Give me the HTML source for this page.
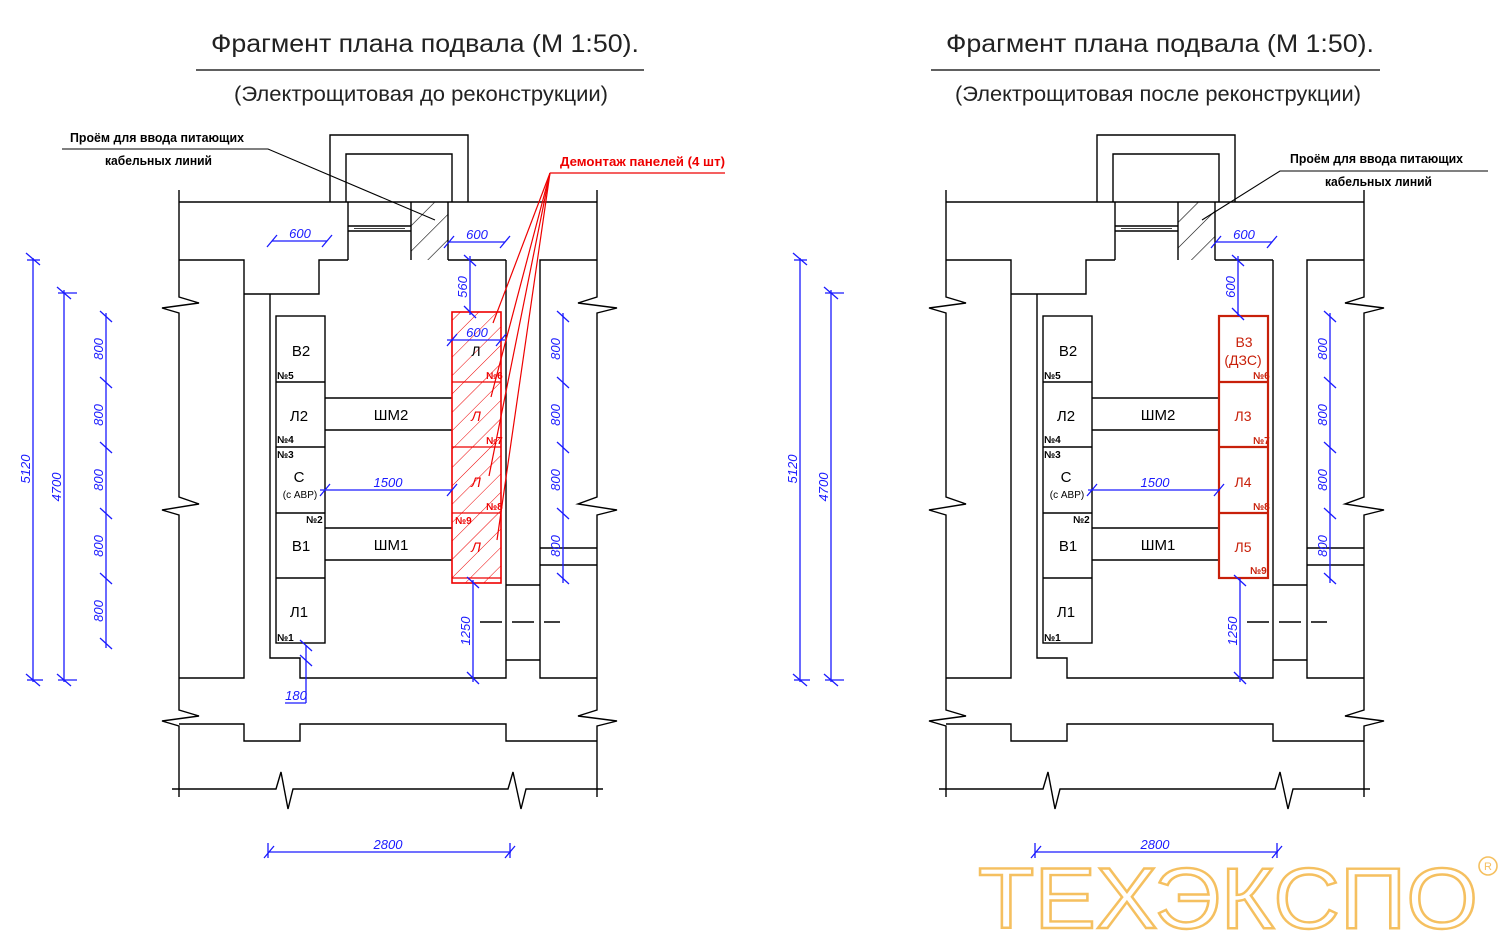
<!DOCTYPE html>
<html><head><meta charset="utf-8"><style>
html,body{margin:0;padding:0;background:#fff}
svg{display:block}
text{font-family:"Liberation Sans Narrow","Liberation Sans",sans-serif}
</style></head><body>
<svg width="1500" height="932" viewBox="0 0 1500 932" xmlns="http://www.w3.org/2000/svg">
<defs>
<pattern id="hb" patternUnits="userSpaceOnUse" width="18" height="18" patternTransform="rotate(45)">
<line x1="0" y1="0" x2="0" y2="18" stroke="#000" stroke-width="1.2"/></pattern>
<pattern id="hr" patternUnits="userSpaceOnUse" width="13" height="13" patternTransform="rotate(45)">
<line x1="0" y1="0" x2="0" y2="13" stroke="#e00" stroke-width="1"/></pattern>
<g id="plan" fill="none" stroke="#000" stroke-width="1.4">
<polyline points="330,202 330,135 468,135 468,202"/>
<polyline points="346,202 346,154 452,154 452,202"/>
<line x1="179" y1="202" x2="597" y2="202"/>
<polyline points="179,190 179,297 199,303 162,308 179,313 179,497 199,504 162,510 179,515 179,710 199,716 162,721 179,726 179,797"/>
<polyline points="597,190 597,297 578,303 617,308 597,313 597,497 578,504 617,510 597,515 597,710 578,716 617,721 597,726 597,797"/>
<polyline points="179,260 244,260 244,678 179,678"/>
<polyline points="244,294 319,294 319,260 348,260"/>
<line x1="448" y1="260" x2="506" y2="260"/>
<line x1="348" y1="202" x2="348" y2="260"/>
<line x1="448" y1="202" x2="448" y2="260"/>
<line x1="411" y1="202" x2="411" y2="260"/>
<line x1="348" y1="226" x2="411" y2="226"/>
<line x1="348" y1="231" x2="411" y2="231"/>
<line x1="354" y1="228.5" x2="405" y2="228.5" stroke-width="0.8"/>
<polyline points="506,260 506,678 300,678 300,658 270,658 270,294"/>
<polyline points="597,260 540,260 540,678 597,678"/>
<line x1="540" y1="548" x2="597" y2="548"/>
<line x1="540" y1="565" x2="597" y2="565"/>
<line x1="506" y1="585" x2="540" y2="585"/>
<line x1="506" y1="660" x2="540" y2="660"/>
<line x1="480" y1="622" x2="560" y2="622" stroke-dasharray="22,10"/>
<polyline points="179,724 244,724 244,741 300,741 300,724 506,724 506,741 597,741"/>
<polyline points="172,789 276,789 281,772 288,809 293,789 508,789 513,772 521,809 526,789 603,789"/>
<rect x="276" y="316" width="49" height="327"/>
<line x1="276" y1="382" x2="325" y2="382"/>
<line x1="276" y1="447" x2="325" y2="447"/>
<line x1="276" y1="513" x2="325" y2="513"/>
<line x1="276" y1="578" x2="325" y2="578"/>
<line x1="325" y1="398" x2="452" y2="398"/>
<line x1="325" y1="430" x2="452" y2="430"/>
<line x1="325" y1="528" x2="452" y2="528"/>
<line x1="325" y1="560" x2="452" y2="560"/>
</g>
</defs>

<rect x="411" y="202" width="37" height="58" fill="url(#hb)"/>
<rect x="1178" y="202" width="37" height="58" fill="url(#hb)"/>
<use href="#plan"/>
<use href="#plan" x="767"/>

<g font-size="25" fill="#222" text-anchor="middle">
<text x="425" y="52" textLength="428" lengthAdjust="spacingAndGlyphs">Фрагмент плана подвала (М 1:50).</text>
<text x="421" y="101" font-size="21" textLength="374" lengthAdjust="spacingAndGlyphs">(Электрощитовая до реконструкции)</text>
<text x="1160" y="52" textLength="428" lengthAdjust="spacingAndGlyphs">Фрагмент плана подвала (М 1:50).</text>
<text x="1158" y="101" font-size="21" textLength="406" lengthAdjust="spacingAndGlyphs">(Электрощитовая после реконструкции)</text>
</g>
<line x1="196" y1="70" x2="644" y2="70" stroke="#000" stroke-width="1.3"/>
<line x1="931" y1="70" x2="1380" y2="70" stroke="#000" stroke-width="1.3"/>

<g stroke="#000" stroke-width="1.1" fill="none">
<polyline points="62,149 268,149 435,220"/>
<polyline points="1488,171 1280,171 1202,220"/>
</g>
<g font-size="13" fill="#000" font-weight="bold">
<text x="70" y="142" textLength="174" lengthAdjust="spacingAndGlyphs">Проём для ввода питающих</text>
<text x="105" y="165" textLength="107" lengthAdjust="spacingAndGlyphs">кабельных линий</text>
<text x="1290" y="163" textLength="173" lengthAdjust="spacingAndGlyphs">Проём для ввода питающих</text>
<text x="1325" y="186" textLength="107" lengthAdjust="spacingAndGlyphs">кабельных линий</text>
</g>

<rect x="452" y="312" width="49" height="271" fill="url(#hr)" stroke="#e00" stroke-width="1.6"/>
<g stroke="#e00" stroke-width="1.2" fill="none">
<line x1="452" y1="382" x2="501" y2="382"/>
<line x1="452" y1="447" x2="501" y2="447"/>
<line x1="452" y1="513" x2="501" y2="513"/>
<line x1="452" y1="578" x2="501" y2="578"/>
<polyline points="725,173 550,173"/>
<line x1="550" y1="173" x2="493" y2="323"/>
<line x1="550" y1="173" x2="491" y2="397"/>
<line x1="550" y1="173" x2="489" y2="476"/>
<line x1="550" y1="173" x2="497" y2="540"/>
</g>
<text x="560" y="166" font-size="13" fill="#e00" font-weight="bold" textLength="165" lengthAdjust="spacingAndGlyphs">Демонтаж панелей (4 шт)</text>

<g stroke="#c8200a" stroke-width="2.2" fill="none">
<rect x="1219" y="316" width="49" height="262"/>
<line x1="1219" y1="382" x2="1268" y2="382"/>
<line x1="1219" y1="447" x2="1268" y2="447"/>
<line x1="1219" y1="513" x2="1268" y2="513"/>
</g>

<g font-size="15" fill="#000" text-anchor="middle">
<text x="301" y="356">В2</text><text x="299" y="421">Л2</text>
<text x="299" y="482">С</text><text x="301" y="551">В1</text><text x="299" y="617">Л1</text>
<text x="391" y="420">ШМ2</text><text x="391" y="550">ШМ1</text>
<text x="1068" y="356">В2</text><text x="1066" y="421">Л2</text>
<text x="1066" y="482">С</text><text x="1068" y="551">В1</text><text x="1066" y="617">Л1</text>
<text x="1158" y="420">ШМ2</text><text x="1158" y="550">ШМ1</text>
<text x="476" y="356" font-size="14">Л</text>
</g>
<g font-size="10" fill="#000" font-weight="bold">
<text x="300" y="498" text-anchor="middle" font-weight="normal">(c АВР)</text>
<text x="277" y="379">№5</text><text x="277" y="443">№4</text><text x="277" y="458">№3</text>
<text x="306" y="523">№2</text><text x="277" y="641">№1</text>
<text x="1067" y="498" text-anchor="middle" font-weight="normal">(c АВР)</text>
<text x="1044" y="379">№5</text><text x="1044" y="443">№4</text><text x="1044" y="458">№3</text>
<text x="1073" y="523">№2</text><text x="1044" y="641">№1</text>
</g>
<g font-size="10" fill="#e00" font-weight="bold">
<text x="486" y="379">№6</text><text x="486" y="444">№7</text><text x="486" y="510">№8</text><text x="455" y="524">№9</text>
</g>
<g font-size="14" fill="#e00" text-anchor="middle" font-style="italic">
<text x="476" y="421">Л</text><text x="476" y="487">Л</text><text x="476" y="552">Л</text>
</g>
<g font-size="14" fill="#c8200a" text-anchor="middle">
<text x="1244" y="347">В3</text><text x="1243" y="365">(ДЗС)</text>
<text x="1243" y="421">Л3</text><text x="1243" y="487">Л4</text><text x="1243" y="552">Л5</text>
</g>
<g font-size="10" fill="#c8200a" font-weight="bold">
<text x="1253" y="379">№6</text><text x="1253" y="444">№7</text><text x="1253" y="510">№8</text><text x="1250" y="574">№9</text>
</g>

<g stroke="#1a1aff" stroke-width="1.3" fill="none">
<line x1="33" y1="258" x2="33" y2="682"/><line x1="26" y1="253" x2="40" y2="265"/><line x1="26" y1="674" x2="40" y2="686"/>
<line x1="27" y1="680" x2="43" y2="680"/><line x1="27" y1="260" x2="40" y2="260"/>
<line x1="64" y1="290" x2="64" y2="682"/><line x1="57" y1="287" x2="71" y2="299"/><line x1="57" y1="674" x2="71" y2="686"/>
<line x1="58" y1="293" x2="77" y2="293"/><line x1="58" y1="680" x2="77" y2="680"/>
<line x1="106" y1="313" x2="106" y2="648"/>
<line x1="100" y1="311" x2="112" y2="322"/><line x1="100" y1="377" x2="112" y2="388"/><line x1="100" y1="442" x2="112" y2="453"/>
<line x1="100" y1="508" x2="112" y2="519"/><line x1="100" y1="573" x2="112" y2="584"/><line x1="100" y1="638" x2="112" y2="649"/>
<line x1="269" y1="852" x2="511" y2="852"/><line x1="264" y1="858" x2="274" y2="846"/><line x1="505" y1="858" x2="515" y2="846"/>
<line x1="268" y1="843" x2="268" y2="858"/><line x1="510" y1="843" x2="510" y2="858"/>
<line x1="272" y1="241" x2="327" y2="241"/><line x1="267" y1="247" x2="277" y2="235"/><line x1="322" y1="247" x2="332" y2="235"/>
<line x1="449" y1="242" x2="505" y2="242"/><line x1="444" y1="248" x2="454" y2="236"/><line x1="500" y1="248" x2="510" y2="236"/>
<line x1="470" y1="256" x2="470" y2="315"/><line x1="464" y1="255" x2="476" y2="266"/><line x1="464" y1="306" x2="476" y2="318"/>
<line x1="447" y1="340" x2="505" y2="340"/><line x1="447" y1="346" x2="457" y2="334"/><line x1="496" y1="346" x2="506" y2="334"/>
<line x1="320" y1="490" x2="452" y2="490"/><line x1="320" y1="496" x2="330" y2="484"/><line x1="447" y1="496" x2="457" y2="484"/>
<line x1="473" y1="580" x2="473" y2="682"/><line x1="467" y1="577" x2="479" y2="588"/><line x1="467" y1="672" x2="479" y2="684"/>
<line x1="306" y1="645" x2="306" y2="703"/><line x1="300" y1="640" x2="312" y2="651"/><line x1="300" y1="655" x2="312" y2="666"/>
<line x1="285" y1="703" x2="306" y2="703"/>
<line x1="563" y1="313" x2="563" y2="583"/>
<line x1="557" y1="311" x2="569" y2="322"/><line x1="557" y1="377" x2="569" y2="388"/><line x1="557" y1="442" x2="569" y2="453"/>
<line x1="557" y1="508" x2="569" y2="519"/><line x1="557" y1="573" x2="569" y2="584"/>
<line x1="800" y1="258" x2="800" y2="682"/><line x1="793" y1="253" x2="807" y2="265"/><line x1="793" y1="674" x2="807" y2="686"/>
<line x1="794" y1="680" x2="810" y2="680"/><line x1="794" y1="260" x2="807" y2="260"/>
<line x1="831" y1="290" x2="831" y2="682"/><line x1="824" y1="287" x2="838" y2="299"/><line x1="824" y1="674" x2="838" y2="686"/>
<line x1="825" y1="293" x2="844" y2="293"/><line x1="825" y1="680" x2="844" y2="680"/>
<line x1="1036" y1="852" x2="1278" y2="852"/><line x1="1031" y1="858" x2="1041" y2="846"/><line x1="1272" y1="858" x2="1282" y2="846"/>
<line x1="1035" y1="843" x2="1035" y2="858"/><line x1="1277" y1="843" x2="1277" y2="858"/>
<line x1="1216" y1="242" x2="1272" y2="242"/><line x1="1211" y1="248" x2="1221" y2="236"/><line x1="1267" y1="248" x2="1277" y2="236"/>
<line x1="1238" y1="256" x2="1238" y2="316"/><line x1="1232" y1="255" x2="1244" y2="266"/><line x1="1232" y1="308" x2="1244" y2="320"/>
<line x1="1088" y1="490" x2="1220" y2="490"/><line x1="1087" y1="496" x2="1097" y2="484"/><line x1="1214" y1="496" x2="1224" y2="484"/>
<line x1="1240" y1="578" x2="1240" y2="682"/><line x1="1234" y1="575" x2="1246" y2="586"/><line x1="1234" y1="672" x2="1246" y2="684"/>
<line x1="1330" y1="313" x2="1330" y2="583"/>
<line x1="1324" y1="311" x2="1336" y2="322"/><line x1="1324" y1="377" x2="1336" y2="388"/><line x1="1324" y1="442" x2="1336" y2="453"/>
<line x1="1324" y1="508" x2="1336" y2="519"/><line x1="1324" y1="573" x2="1336" y2="584"/>
</g>
<g font-size="13" fill="#1a1aff" font-style="italic" text-anchor="middle">
<text x="300" y="238">600</text><text x="477" y="239">600</text><text x="477" y="337">600</text>
<text x="388" y="487">1500</text><text x="388" y="849">2800</text><text x="296" y="700">180</text>
<text x="1244" y="239">600</text><text x="1155" y="487">1500</text><text x="1155" y="849">2800</text>
<g transform="translate(30,469) rotate(-90)"><text>5120</text></g>
<g transform="translate(61,487) rotate(-90)"><text>4700</text></g>
<g transform="translate(103,349) rotate(-90)"><text>800</text></g>
<g transform="translate(103,415) rotate(-90)"><text>800</text></g>
<g transform="translate(103,480) rotate(-90)"><text>800</text></g>
<g transform="translate(103,546) rotate(-90)"><text>800</text></g>
<g transform="translate(103,611) rotate(-90)"><text>800</text></g>
<g transform="translate(560,349) rotate(-90)"><text>800</text></g>
<g transform="translate(560,415) rotate(-90)"><text>800</text></g>
<g transform="translate(560,480) rotate(-90)"><text>800</text></g>
<g transform="translate(560,546) rotate(-90)"><text>800</text></g>
<g transform="translate(467,287) rotate(-90)"><text>560</text></g>
<g transform="translate(470,631) rotate(-90)"><text>1250</text></g>
<g transform="translate(797,469) rotate(-90)"><text>5120</text></g>
<g transform="translate(828,487) rotate(-90)"><text>4700</text></g>
<g transform="translate(1327,349) rotate(-90)"><text>800</text></g>
<g transform="translate(1327,415) rotate(-90)"><text>800</text></g>
<g transform="translate(1327,480) rotate(-90)"><text>800</text></g>
<g transform="translate(1327,546) rotate(-90)"><text>800</text></g>
<g transform="translate(1235,287) rotate(-90)"><text>600</text></g>
<g transform="translate(1237,631) rotate(-90)"><text>1250</text></g>
</g>

<text x="978" y="928" font-size="86" fill="none" stroke="#f5c060" stroke-width="2.4" textLength="500" lengthAdjust="spacingAndGlyphs" style="font-family:'Liberation Sans',sans-serif">ТЕХЭКСПО</text>
<circle cx="1488" cy="866" r="9" fill="none" stroke="#f5c060" stroke-width="1.6"/>
<text x="1488" y="870" font-size="11" fill="#f5c060" text-anchor="middle" style="font-family:'Liberation Sans',sans-serif">R</text>
</svg>
</body></html>
